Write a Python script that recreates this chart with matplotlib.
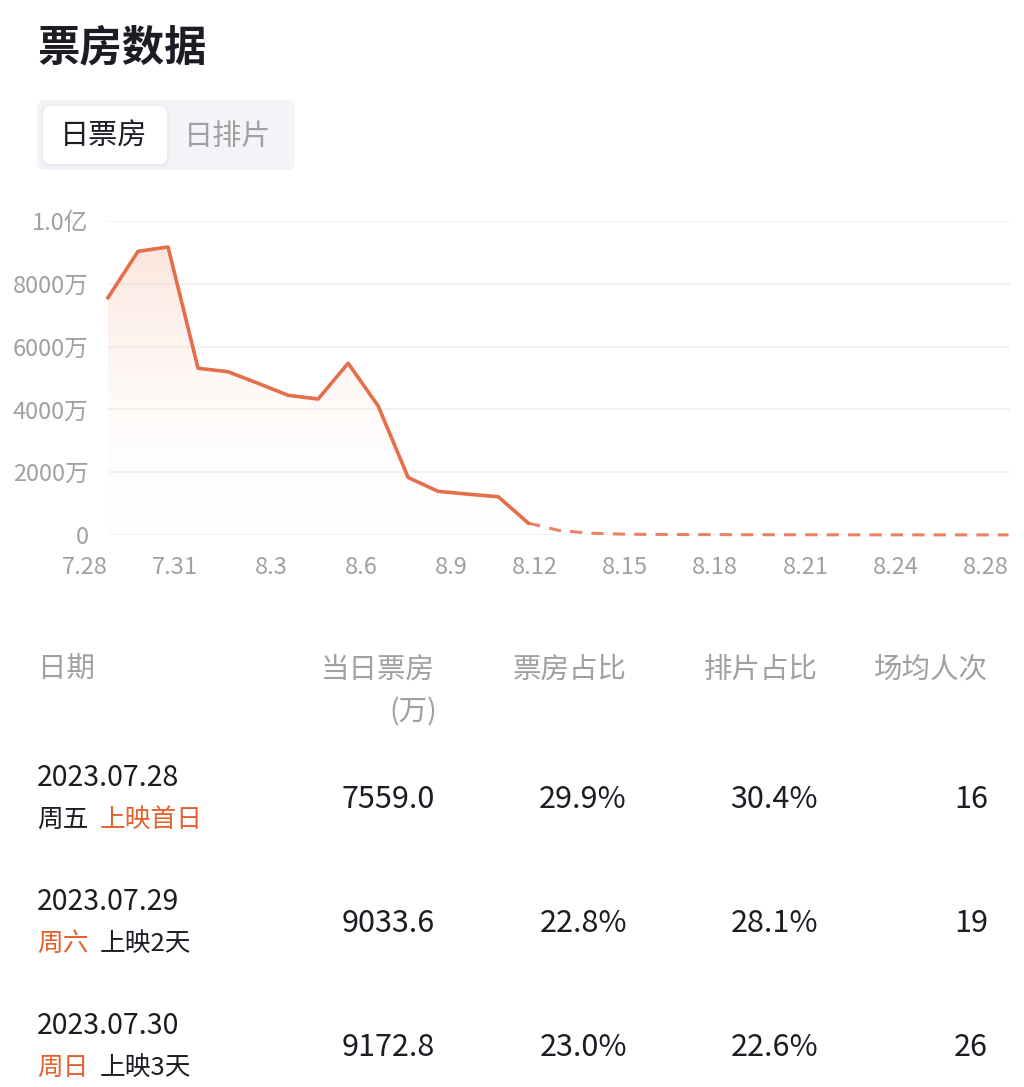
import numpy as np
import matplotlib.pyplot as plt
from matplotlib.patches import FancyBboxPatch, Polygon
from matplotlib.colors import LinearSegmentedColormap

plt.rcParams['font.family'] = ['Noto Sans CJK SC', 'DejaVu Sans']

# daily box office (万), 7.28 .. 8.27
days = ['7.28', '7.29', '7.30', '7.31', '8.1', '8.2', '8.3', '8.4', '8.5', '8.6',
        '8.7', '8.8', '8.9', '8.10', '8.11', '8.12', '8.13', '8.14', '8.15', '8.16',
        '8.17', '8.18', '8.19', '8.20', '8.21', '8.22', '8.23', '8.24', '8.25', '8.26', '8.27']
box = [7559.0, 9033.6, 9172.8, 5310, 5200, 4830, 4450, 4330, 5470, 4110,
       1830, 1390, 1300, 1220, 380, 150, 60, 30, 20, 15,
       12, 10, 8, 7, 6, 5, 5, 4, 4, 3, 3]
solid_end = 14  # last actual day (8.11), forecast after it is dashed

xtick_idx = [0, 3, 6, 9, 12, 15, 18, 21, 24, 27, 30]
xtick_labels = ['7.28', '7.31', '8.3', '8.6', '8.9', '8.12', '8.15', '8.18', '8.21', '8.24', '8.28']
ytick_vals = [0, 2000, 4000, 6000, 8000, 10000]
ytick_labels = ['0', '2000万', '4000万', '6000万', '8000万', '1.0亿']

headers = ['日期', '当日票房', '票房占比', '排片占比', '场均人次']
row_dates = ['2023.07.28', '2023.07.29', '2023.07.30']
row_week = ['周五', '周六', '周日']
row_note = ['上映首日', '上映2天', '上映3天']
row_box = ['7559.0', '9033.6', '9172.8']
row_share = ['29.9%', '22.8%', '23.0%']
row_sched = ['30.4%', '28.1%', '22.6%']
row_avg = ['16', '19', '26']

W, H = 1024, 1087
ORANGE = '#E56E4B'
RED_TXT = '#E5602E'
DARK = '#1C1C24'
GRAY = '#A0A0A0'

fig = plt.figure(figsize=(W / 100, H / 100), dpi=100)
fig.patch.set_facecolor('white')

def fx(x):
    return x / W

def fy(y):
    return 1 - y / H

# title
fig.text(fx(37), fy(48), '票房数据', fontsize=30.5, fontweight='bold', color=DARK,
         ha='left', va='center')

# tab switch
tab_bg = FancyBboxPatch((fx(37), fy(170)), fx(258), (170 - 100) / H,
                        boxstyle='round,pad=0,rounding_size=0.008',
                        transform=fig.transFigure, fc='#F3F4F8', ec='none')
fig.patches.append(tab_bg)
for k, a in [(3, 0.04), (2, 0.05), (1, 0.06)]:
    sh = FancyBboxPatch((fx(43 - k), fy(164 + k + 1)), fx(124 + 2 * k), (58 + 2 * k) / H,
                        boxstyle='round,pad=0,rounding_size=0.007',
                        transform=fig.transFigure, fc='#B8BCD0', ec='none', alpha=a)
    fig.patches.append(sh)
tab_on = FancyBboxPatch((fx(43), fy(164)), fx(124), 58 / H,
                        boxstyle='round,pad=0,rounding_size=0.007',
                        transform=fig.transFigure, fc='white', ec='none')
fig.patches.append(tab_on)
fig.text(fx(104), fy(137), '日票房', fontsize=21, color=DARK, ha='center', va='center')
fig.text(fx(228), fy(137), '日排片', fontsize=21, color=GRAY, ha='center', va='center')

# line chart
ax = fig.add_axes([fx(108), fy(535), fx(1010 - 108), (535 - 221) / H])
x = np.arange(len(box))
y = np.array(box)

ax.set_xlim(0, 30.05)
ax.set_ylim(0, 10000)
for v in ytick_vals:
    ax.axhline(v, color='#F0F0F0', lw=1.2, zorder=0)

# gradient fill under the actual part
xs = x[:solid_end + 1]
ys = y[:solid_end + 1]
cmap = LinearSegmentedColormap.from_list('fade', [(1, 1, 1, 0), (0.98, 0.80, 0.72, 0.5)])
grad = np.linspace(0, 1, 256).reshape(-1, 1)
img = ax.imshow(grad, aspect='auto', cmap=cmap, origin='lower',
                extent=[0, solid_end, 0, 9300], zorder=1)
poly = Polygon(np.column_stack([np.r_[xs, xs[-1], 0], np.r_[ys, 0, 0]]),
               closed=True, transform=ax.transData, fc='none', ec='none')
ax.add_patch(poly)
img.set_clip_path(poly)

ax.plot(xs, ys, color=ORANGE, lw=2.6, solid_joinstyle='round', zorder=3, clip_on=False)
ax.plot(x[solid_end:], y[solid_end:], color=ORANGE, lw=2.2, ls=(0, (4, 3)), alpha=0.85,
        zorder=3, clip_on=False)

for s in ax.spines.values():
    s.set_visible(False)
ax.set_yticks(ytick_vals)
ax.set_yticklabels(ytick_labels)
ax.set_xticks(xtick_idx)
ax.set_xticklabels(xtick_labels, ha='right')
ax.tick_params(axis='both', length=0, colors=GRAY, labelsize=17)
ax.tick_params(axis='y', pad=14)
ax.tick_params(axis='x', pad=15)
ax.set_facecolor('none')

# table
col_right = [None, 435, 627, 818, 988]
fig.text(fx(38), fy(670), headers[0], fontsize=20.5, color=GRAY, ha='left', va='center')
for h, xr in zip(headers[1:], col_right[1:]):
    fig.text(fx(xr), fy(670), h, fontsize=20.5, color=GRAY, ha='right', va='center')
fig.text(fx(437), fy(712), '(万)', fontsize=20.5, color=GRAY, ha='right', va='center')

row_top = [778, 902, 1026]
for i in range(3):
    yt = row_top[i]
    fig.text(fx(37), fy(yt), row_dates[i], fontsize=20.5, color=DARK, ha='left', va='center')
    wk_col = DARK if i == 0 else RED_TXT
    nt_col = RED_TXT if i == 0 else DARK
    fig.text(fx(37), fy(yt + 42), row_week[i], fontsize=18.5, color=wk_col, ha='left', va='center')
    fig.text(fx(100), fy(yt + 42), row_note[i], fontsize=18.5, color=nt_col, ha='left', va='center')
    ym = yt + 21
    for val, xr in zip([row_box[i], row_share[i], row_sched[i], row_avg[i]], col_right[1:]):
        fig.text(fx(xr), fy(ym), val, fontsize=22, color=DARK, ha='right', va='center')

fig.savefig('out.png', dpi=100, facecolor='white')
